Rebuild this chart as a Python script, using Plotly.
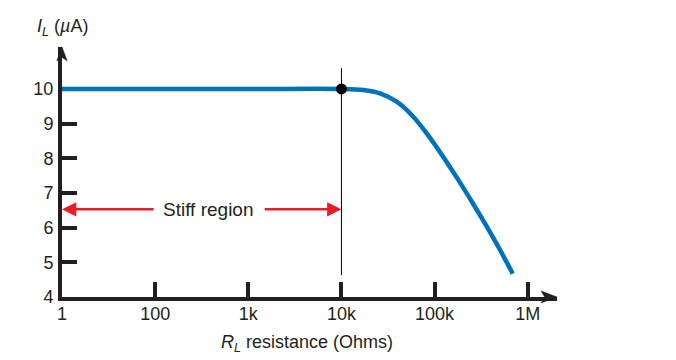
import numpy as np
import plotly.graph_objects as go

# Data
r_load = [10, 1000, 10000, 17170, 25940, 39190, 59030, 89290,
          172600, 260100, 393400, 546500, 689300]
i_load = [10.0, 10.0, 10.0, 9.97, 9.875, 9.633, 9.20, 8.589,
          7.450, 6.682, 5.872, 5.188, 4.672]
x_tickvals = [10, 100, 1000, 10000, 100000, 1000000]
x_ticktext = ["1", "100", "1k", "10k", "100k", "1M"]
y_tickvals = [4, 5, 6, 7, 8, 9, 10]
knee_r = 10000
knee_i = 10.0
stiff_y = 6.53
boundary_y = [4.63, 10.6]

FONT = "Liberation Sans, Arial, Helvetica, sans-serif"
INK = "#231f20"
BLUE = "#0072bc"
RED = "#ed1c24"

fig = go.Figure()

fig.add_trace(go.Scatter(x=[knee_r, knee_r], y=boundary_y, mode="lines",
                         line=dict(color="#000000", width=1), hoverinfo="skip",
                         showlegend=False))
fig.add_trace(go.Scatter(x=r_load, y=i_load, mode="lines",
                         line=dict(color=BLUE, width=4.5, shape="spline", smoothing=0.8),
                         showlegend=False))
fig.add_trace(go.Scatter(x=[knee_r], y=[knee_i], mode="markers",
                         marker=dict(color="#000000", size=11), showlegend=False))

xmin_log = 1.0
xmax_log = 1.0 + 495 / 93.15
ymax = 4 + 250 / 34.67

fig.add_annotation(x=np.log10(x_tickvals[0]), y=stiff_y, ax=np.log10(x_tickvals[0]) + 1.0, ay=stiff_y,
                   xref="x", yref="y", axref="x", ayref="y", text="",
                   showarrow=True, arrowhead=2, arrowsize=1.1, arrowwidth=2.6,
                   arrowcolor=RED, standoff=0)
fig.add_annotation(x=np.log10(knee_r), y=stiff_y, ax=np.log10(knee_r) - 0.84, ay=stiff_y,
                   xref="x", yref="y", axref="x", ayref="y", text="",
                   showarrow=True, arrowhead=2, arrowsize=1.1, arrowwidth=2.6,
                   arrowcolor=RED, standoff=0)
fig.add_annotation(x=np.log10(x_tickvals[0]) + 1.57, y=stiff_y, xref="x", yref="y",
                   text="Stiff region", showarrow=False,
                   font=dict(family=FONT, size=19, color=INK))
fig.add_annotation(x=-0.055, y=1.0, xref="paper", yref="paper",
                   xanchor="left", yanchor="bottom", yshift=6,
                   text="<i>I</i><sub><i>L</i></sub> (<i>µ</i>A)",
                   showarrow=False, font=dict(family=FONT, size=18, color=INK))
fig.add_annotation(x=(307 - 62) / 495, y=-0.13, xref="paper", yref="paper",
                   xanchor="center", yanchor="top",
                   text="<i>R</i><sub><i>L</i></sub> resistance (Ohms)",
                   showarrow=False, font=dict(family=FONT, size=18, color=INK))

fig.add_shape(type="path", xref="paper", yref="paper",
              path="M 0.968,0.024 L 1.0,0 L 0.968,-0.024 L 0.975,0 Z",
              fillcolor=INK, line=dict(color=INK, width=0.5))
fig.add_shape(type="path", xref="paper", yref="paper",
              path="M -0.0105,0.945 L 0,1.0 L 0.0105,0.945 L 0,0.958 Z",
              fillcolor=INK, line=dict(color=INK, width=0.5))

fig.update_xaxes(type="log", range=[xmin_log, xmax_log], tickvals=x_tickvals,
                 ticktext=x_ticktext, showgrid=False, zeroline=False,
                 showline=True, linewidth=4, linecolor=INK,
                 ticks="inside", ticklen=15, tickwidth=4, tickcolor=INK,
                 ticklabelstandoff=-3, layer="below traces",
                 tickfont=dict(family=FONT, size=18, color=INK), automargin=False)
fig.update_yaxes(range=[4, ymax], tickvals=y_tickvals, showgrid=False, zeroline=False,
                 showline=True, linewidth=4, linecolor=INK,
                 ticks="inside", ticklen=15, tickwidth=4, tickcolor=INK,
                 ticklabelstandoff=1, layer="below traces",
                 tickfont=dict(family=FONT, size=18, color=INK), automargin=False)

# the page body adds an 8px offset; compensate so the plot area sits where the reference's does
fig.update_layout(width=676, height=360,
                  margin=dict(l=54, r=127, t=39, b=71, autoexpand=False),
                  paper_bgcolor="white", plot_bgcolor="white", showlegend=False)

fig.write_html("out.html")
